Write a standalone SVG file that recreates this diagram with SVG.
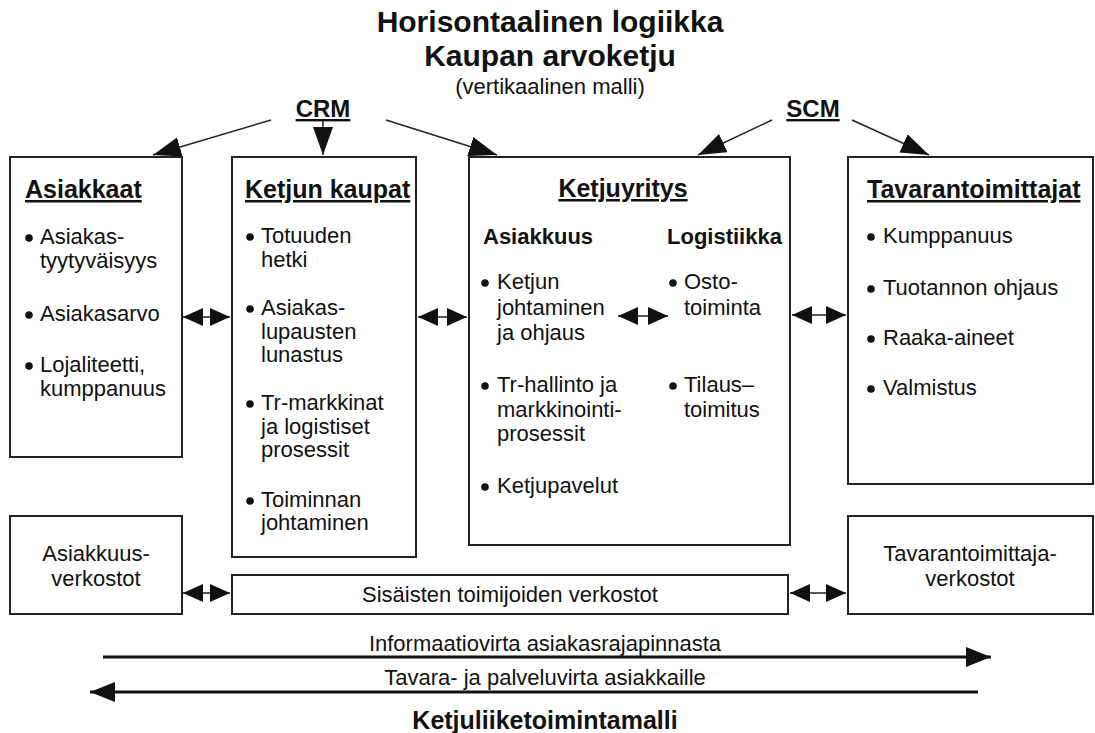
<svg xmlns="http://www.w3.org/2000/svg" width="1095" height="733" viewBox="0 0 1095 733">
<style>
text{font-family:"Liberation Sans",Arial,sans-serif;fill:#111}
.t1{font-size:30px;font-weight:bold;text-anchor:middle}
.sub{font-size:22px;text-anchor:middle}
.hd{font-size:25px;font-weight:bold;text-decoration:underline}
.sh{font-size:22px;font-weight:bold}
.b{font-size:22px}
.c{font-size:22px;text-anchor:middle}
.fl{font-size:22px;text-anchor:middle}
.box{fill:#fff;stroke:#222;stroke-width:2}
.dot{fill:#111}
.ar{stroke:#222;stroke-width:1.5;fill:none}
.da{stroke:#222;stroke-width:1.5;fill:none;marker-start:url(#dh);marker-end:url(#dh)}
.flow{stroke:#111;stroke-width:3;fill:none;marker-end:url(#fh)}
</style>
<defs>
<marker id="ah" markerUnits="userSpaceOnUse" markerWidth="30" markerHeight="22" refX="28" refY="10" orient="auto"><path d="M0,0 L28,10 L0,20 z" fill="#111"/></marker>
<marker id="dh" markerUnits="userSpaceOnUse" markerWidth="21" markerHeight="20" refX="20" refY="9" orient="auto-start-reverse"><path d="M0,0 L20,9 L0,18 z" fill="#111"/></marker>
<marker id="fh" markerUnits="userSpaceOnUse" markerWidth="26" markerHeight="22" refX="25" refY="10" orient="auto"><path d="M0,0 L25,10 L0,20 z" fill="#111"/></marker>
</defs>

<g id="title">
<text class="t1" x="550" y="32">Horisontaalinen logiikka</text>
<text class="t1" x="550" y="66">Kaupan arvoketju</text>
<text class="sub" x="550" y="94">(vertikaalinen malli)</text>
</g>

<g id="crm"><text class="hd" x="323" y="117" text-anchor="middle" style="font-size:24px">CRM</text></g>
<g id="scm"><text class="hd" x="813" y="117" text-anchor="middle" style="font-size:24px">SCM</text></g>

<g id="asiakkaat">
<rect class="box" x="10" y="157" width="172" height="300"/>
<text class="hd" x="25" y="198">Asiakkaat</text>
<circle class="dot" cx="29" cy="238" r="3.8"/>
<text class="b" x="40" y="244">Asiakas-</text>
<text class="b" x="40" y="268">tyytyväisyys</text>
<circle class="dot" cx="29" cy="315" r="3.8"/>
<text class="b" x="40" y="321">Asiakasarvo</text>
<circle class="dot" cx="29" cy="366" r="3.8"/>
<text class="b" x="40" y="372">Lojaliteetti,</text>
<text class="b" x="40" y="396">kumppanuus</text>
</g>

<g id="ketjun-kaupat">
<rect class="box" x="232" y="157" width="184" height="400"/>
<text class="hd" x="245" y="198">Ketjun kaupat</text>
<circle class="dot" cx="250" cy="237" r="3.8"/>
<text class="b" x="261" y="243">Totuuden</text>
<text class="b" x="261" y="267">hetki</text>
<circle class="dot" cx="250" cy="309" r="3.8"/>
<text class="b" x="261" y="315">Asiakas-</text>
<text class="b" x="261" y="339">lupausten</text>
<text class="b" x="261" y="362">lunastus</text>
<circle class="dot" cx="250" cy="404" r="3.8"/>
<text class="b" x="261" y="410">Tr-markkinat</text>
<text class="b" x="261" y="434">ja logistiset</text>
<text class="b" x="261" y="457">prosessit</text>
<circle class="dot" cx="250" cy="501" r="3.8"/>
<text class="b" x="261" y="507">Toiminnan</text>
<text class="b" x="261" y="530">johtaminen</text>
</g>

<g id="ketjuyritys">
<rect class="box" x="469" y="157" width="321" height="388"/>
<text class="hd" x="623" y="197" text-anchor="middle">Ketjuyritys</text>
<text class="sh" x="483" y="244">Asiakkuus</text>
<text class="sh" x="667" y="244">Logistiikka</text>
<circle class="dot" cx="485" cy="283" r="3.8"/>
<text class="b" x="497" y="289">Ketjun</text>
<text class="b" x="497" y="315">johtaminen</text>
<text class="b" x="497" y="340">ja ohjaus</text>
<circle class="dot" cx="485" cy="386" r="3.8"/>
<text class="b" x="497" y="392">Tr-hallinto ja</text>
<text class="b" x="497" y="417">markkinointi-</text>
<text class="b" x="497" y="441">prosessit</text>
<circle class="dot" cx="485" cy="487" r="3.8"/>
<text class="b" x="497" y="493">Ketjupavelut</text>
<circle class="dot" cx="673" cy="283" r="3.8"/>
<text class="b" x="684" y="289">Osto-</text>
<text class="b" x="684" y="315">toiminta</text>
<circle class="dot" cx="673" cy="386" r="3.8"/>
<text class="b" x="684" y="392">Tilaus–</text>
<text class="b" x="684" y="417">toimitus</text>
</g>

<g id="tavarantoimittajat">
<rect class="box" x="848" y="157" width="245" height="327"/>
<text class="hd" x="867" y="198">Tavarantoimittajat</text>
<circle class="dot" cx="871" cy="237" r="3.8"/>
<text class="b" x="883" y="243">Kumppanuus</text>
<circle class="dot" cx="871" cy="289" r="3.8"/>
<text class="b" x="883" y="295">Tuotannon ohjaus</text>
<circle class="dot" cx="871" cy="339" r="3.8"/>
<text class="b" x="883" y="345">Raaka-aineet</text>
<circle class="dot" cx="871" cy="389" r="3.8"/>
<text class="b" x="883" y="395">Valmistus</text>
</g>

<g id="asiakkuusverkostot">
<rect class="box" x="10" y="516" width="172" height="98"/>
<text class="c" x="96" y="561">Asiakkuus-</text>
<text class="c" x="96" y="586">verkostot</text>
</g>

<g id="sisaiset">
<rect class="box" x="232" y="575" width="556" height="39"/>
<text class="c" x="510" y="602">Sisäisten toimijoiden verkostot</text>
</g>

<g id="tavarantoimittajaverkostot">
<rect class="box" x="848" y="516" width="245" height="98"/>
<text class="c" x="970" y="561">Tavarantoimittaja-</text>
<text class="c" x="970" y="586">verkostot</text>
</g>

<g id="connectors">
<line class="ar" x1="271" y1="120" x2="153" y2="155" marker-end="url(#ah)"/>
<line class="ar" x1="323" y1="121" x2="323" y2="155" marker-end="url(#ah)"/>
<line class="ar" x1="386" y1="120" x2="497" y2="155" marker-end="url(#ah)"/>
<line class="ar" x1="772" y1="120" x2="698" y2="155" marker-end="url(#ah)"/>
<line class="ar" x1="852" y1="120" x2="929" y2="155" marker-end="url(#ah)"/>
<line class="da" x1="183" y1="317" x2="230" y2="317"/>
<line class="da" x1="418" y1="317" x2="467" y2="317"/>
<line class="da" x1="618" y1="316" x2="668" y2="316"/>
<line class="da" x1="792" y1="315" x2="846" y2="315"/>
<line class="da" x1="183" y1="593" x2="230" y2="593"/>
<line class="da" x1="790" y1="593" x2="846" y2="593"/>
<line class="flow" x1="103" y1="657" x2="991" y2="657"/>
<line class="flow" x1="978" y1="692" x2="90" y2="692"/>
</g>

<g id="flows">
<text class="fl" x="545" y="651">Informaatiovirta asiakasrajapinnasta</text>
<text class="fl" x="545" y="685">Tavara- ja palveluvirta asiakkaille</text>
<text class="t1" x="545" y="729" style="font-size:25px">Ketjuliiketoimintamalli</text>
</g>
</svg>
